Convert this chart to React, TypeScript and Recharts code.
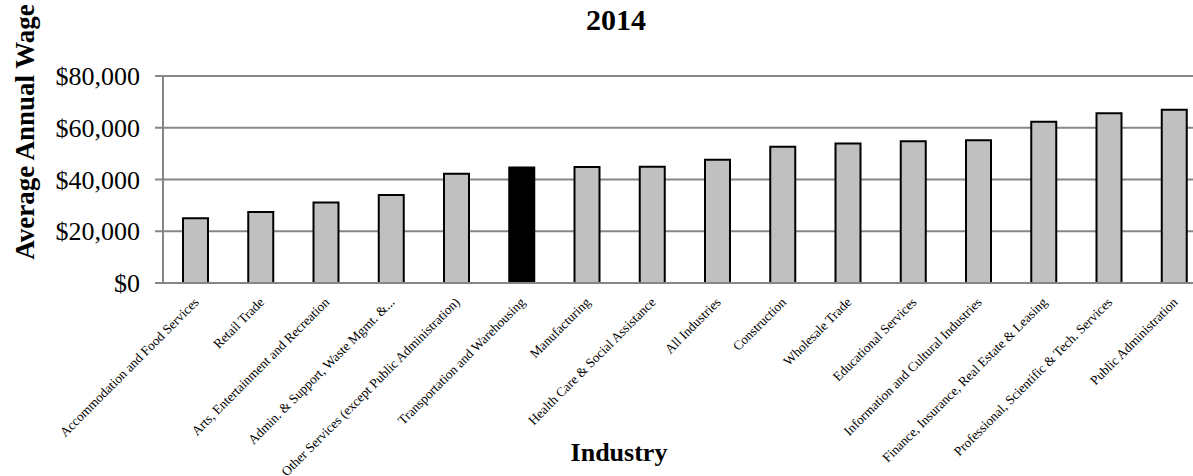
import React from 'react'
import { BarChart, Bar, XAxis, YAxis, CartesianGrid, Cell, ReferenceLine } from 'recharts'

const industries = [
  'Accommodation and Food Services',
  'Retail Trade',
  'Arts, Entertainment and Recreation',
  'Admin. & Support, Waste Mgmt. &...',
  'Other Services (except Public Administration)',
  'Transportation and Warehousing',
  'Manufacturing',
  'Health Care & Social Assistance',
  'All Industries',
  'Construction',
  'Wholesale Trade',
  'Educational Services',
  'Information and Cultural Industries',
  'Finance, Insurance, Real Estate & Leasing',
  'Professional, Scientific & Tech. Services',
  'Public Administration',
]

const wages = [
  25000, 27400, 31100, 34000, 42200, 44600, 44800, 44900,
  47600, 52700, 53900, 54800, 55200, 62300, 65600, 67000,
]

const yTicks = [0, 20000, 40000, 60000, 80000]

const highlighted = 'Transportation and Warehousing'

const serif = '"Liberation Serif", "Times New Roman", serif'
const gridGray = '#868686'

const data = industries.map((name, i) => ({ name, wage: wages[i] }))

const money = (v: number) => '$' + v.toLocaleString('en-US')

function IndustryTick(props: any) {
  const { x, y, payload } = props
  const ax = x + 4
  const ay = y + 12
  return (
    <text
      x={ax}
      y={ay}
      transform={`rotate(-45, ${ax}, ${ay})`}
      textAnchor="end"
      fontSize={13.3}
      fontFamily={serif}
      fill="#000"
    >
      {payload.value}
    </text>
  )
}

export default function App() {
  return (
    <div style={{ position: 'absolute', left: 0, top: 0, width: 1193, height: 476, overflow: 'hidden', background: '#fff' }}>
      <div
        style={{
          position: 'absolute',
          left: 516,
          width: 200,
          top: 0,
          textAlign: 'center',
          fontFamily: serif,
          fontWeight: 'bold',
          fontSize: 30,
          lineHeight: '40px',
        }}
      >
        2014
      </div>
      <BarChart
        width={1210}
        height={476}
        data={data}
        margin={{ top: 76, right: 3, bottom: 43, left: 0 }}
        barCategoryGap="29%"
        style={{ position: 'absolute', left: 0, top: 0 }}
      >
        <CartesianGrid vertical={false} stroke={gridGray} strokeWidth={2} />
        <XAxis
          dataKey="name"
          interval={0}
          height={150}
          axisLine={{ stroke: gridGray, strokeWidth: 2 }}
          tickLine={false}
          tick={<IndustryTick />}
          tickMargin={2}
          label={{
            content: () => (
              <text x={619} y={461} textAnchor="middle" fontFamily={serif} fontWeight="bold" fontSize={26} fill="#000">
                Industry
              </text>
            ),
          }}
        />
        <YAxis
          width={163}
          domain={[0, 80000]}
          ticks={yTicks}
          tickFormatter={money}
          axisLine={{ stroke: gridGray, strokeWidth: 2 }}
          tickLine={{ stroke: gridGray, strokeWidth: 2 }}
          tickSize={8}
          tickMargin={15}
          tick={{ fill: '#000', fontSize: 26, fontFamily: serif }}
          label={{
            content: () => (
              <text
                x={34}
                y={132}
                transform="rotate(-90, 34, 132)"
                textAnchor="middle"
                fontFamily={serif}
                fontWeight="bold"
                fontSize={27}
                fill="#000"
              >
                Average Annual Wage
              </text>
            ),
          }}
        />
        <Bar dataKey="wage" barSize={25} isAnimationActive={false}>
          {data.map((d) => (
            <Cell
              key={d.name}
              fill={d.name === highlighted ? '#000' : '#C0C0C0'}
              stroke="#000"
              strokeWidth={2}
            />
          ))}
        </Bar>
        <ReferenceLine y={0} stroke={gridGray} strokeWidth={2} isFront />
      </BarChart>
    </div>
  )
}
